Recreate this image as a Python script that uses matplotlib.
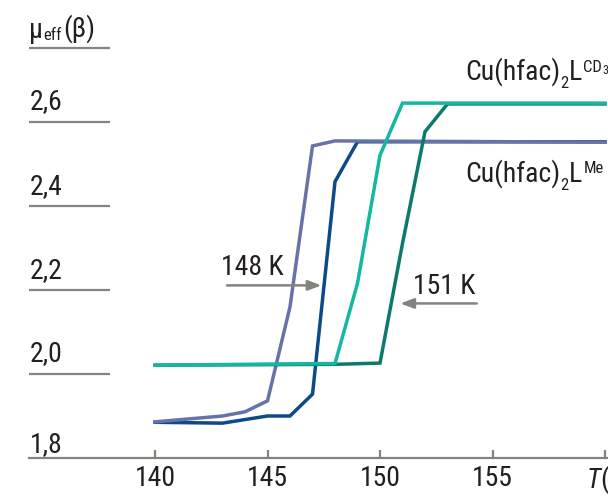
import matplotlib
matplotlib.use("Agg")
import matplotlib.pyplot as plt
from matplotlib import transforms
from matplotlib import font_manager as fm

available = set(f.name for f in fm.fontManager.ttflist)
MAIN = next((f for f in ['Roboto Condensed', 'Archivo Narrow', 'Liberation Sans Narrow']
             if f in available), 'DejaVu Sans')
FONT = [MAIN, 'DejaVu Sans']
plt.rcParams['font.family'] = FONT
plt.rcParams['mathtext.fontset'] = 'custom'
plt.rcParams['mathtext.rm'] = MAIN
plt.rcParams['mathtext.it'] = MAIN + ':italic'
plt.rcParams['mathtext.bf'] = MAIN + ':bold'
plt.rcParams['mathtext.default'] = 'regular'

# ---- data ----
me_heat_T = [140, 143, 144, 145, 146, 147, 148, 160]
me_heat_mu = [1.886, 1.900, 1.910, 1.936, 2.160, 2.543, 2.555, 2.552]

me_cool_T = [140, 143, 145, 146, 147, 148, 149, 160]
me_cool_mu = [1.885, 1.883, 1.900, 1.900, 1.952, 2.458, 2.553, 2.553]

cd3_cool_T = [140, 148, 149, 150, 151, 160]
cd3_cool_mu = [2.021, 2.025, 2.216, 2.521, 2.645, 2.645]

cd3_heat_T = [140, 148, 150, 151, 152, 153, 160]
cd3_heat_mu = [2.021, 2.023, 2.026, 2.311, 2.577, 2.643, 2.643]

y_ticks = [1.8, 2.0, 2.2, 2.4, 2.6]
y_labels = ['1,8', '2,0', '2,2', '2,4', '2,6']
x_ticks = [140, 145, 150, 155, 160]
x_labels = ['140', '145', '150', '155', '']

C_PURPLE = '#6672a8'
C_DBLUE = '#0d4a88'
C_TEAL = '#14b7a1'
C_DTEAL = '#0c7a6a'
C_GRAY = '#86827d'
C_TEXT = '#231f20'
FS = 20
LW = 2.5

fig = plt.figure(figsize=(6.08, 4.96), dpi=100)
ax = fig.add_axes([0, 0, 1, 1])
ax.set_xlim(133.111, 160.133)
ax.set_ylim(1.7095, 2.8905)
for s in ['top', 'left', 'right']:
    ax.spines[s].set_visible(False)
ax.spines['bottom'].set_position(('data', 1.8))
ax.spines['bottom'].set_bounds(134.4, 160.133)
ax.spines['bottom'].set_color(C_GRAY)
ax.spines['bottom'].set_linewidth(1.6)
ax.patch.set_alpha(0)

ax.set_xticks(x_ticks)
ax.set_xticklabels(x_labels)
ax.tick_params(axis='x', direction='in', length=6, width=1.6, color=C_GRAY,
               labelsize=FS, labelcolor=C_TEXT, pad=5)
ax.set_yticks([])

# y "ticks": short lines with labels above
xl0, xl1 = 134.4, 138.0
gaps = [6, 13, 12, 12, 13]
for v, lab, g in zip(y_ticks, y_labels, gaps):
    if v != 1.8:
        ax.plot([xl0, xl1], [v, v], color=C_GRAY, lw=1.6, solid_capstyle='butt')
    tr = transforms.offset_copy(ax.transData, fig=fig, x=0, y=g, units='dots')
    ax.text(xl0 + 0.02, v, lab, transform=tr, fontsize=FS, color=C_TEXT,
            ha='left', va='baseline')
top_line = 2.776
ax.plot([xl0, xl1], [top_line, top_line], color=C_GRAY, lw=1.6, solid_capstyle='butt')
tr = transforms.offset_copy(ax.transData, fig=fig, x=0, y=10, units='dots')
t_mu = ax.text(xl0 + 0.02, top_line, 'μ', transform=tr, fontsize=FS, color=C_TEXT,
               ha='left', va='baseline')
t_eff = ax.annotate('eff', xy=(1.0, 0.05), xycoords=t_mu, fontsize=FS * 0.6,
                    color=C_TEXT, ha='left', va='bottom')
ax.annotate('(β)', xy=(1.0, 0.0), xycoords=t_eff, fontsize=FS, color=C_TEXT,
            ha='left', va='bottom', xytext=(1, 0), textcoords='offset points')

# curves
ax.plot(me_cool_T, me_cool_mu, color=C_DBLUE, lw=LW, solid_joinstyle='miter')
ax.plot(me_heat_T, me_heat_mu, color=C_PURPLE, lw=LW, solid_joinstyle='miter')
ax.plot(cd3_heat_T, cd3_heat_mu, color=C_DTEAL, lw=LW, solid_joinstyle='miter')
ax.plot(cd3_cool_T, cd3_cool_mu, color=C_TEAL, lw=LW, solid_joinstyle='miter')

# arrows
ax.annotate('', xy=(147.4, 2.211), xytext=(143.2, 2.211),
            arrowprops=dict(arrowstyle='-|>,head_length=0.8,head_width=0.3',
                            color=C_GRAY, lw=1.8, shrinkA=0, shrinkB=0))
ax.text(142.95, 2.211 + 0.010, '148 K', fontsize=FS, color=C_TEXT,
        ha='left', va='bottom')
ax.annotate('', xy=(150.9, 2.168), xytext=(154.3, 2.168),
            arrowprops=dict(arrowstyle='-|>,head_length=0.8,head_width=0.3',
                            color=C_GRAY, lw=1.8, shrinkA=0, shrinkB=0))
ax.text(151.45, 2.168 + 0.008, '151 K', fontsize=FS, color=C_TEXT,
        ha='left', va='bottom')


# series labels built from pieces: Cu(hfac)_2 L^{sup}{_sub}
def chem_label(x, y, sup, sup_dy, sup_fs, tail=None):
    t1 = ax.text(x, y, 'Cu(hfac)', fontsize=FS, color=C_TEXT,
                 ha='left', va='baseline')
    t2 = ax.annotate('2', xy=(1.0, y), xycoords=(t1, 'data'), xytext=(0.3, -5.8),
                     textcoords='offset points', fontsize=FS * 0.6, color=C_TEXT,
                     ha='left', va='baseline')
    t3 = ax.annotate('L', xy=(1.0, y), xycoords=(t2, 'data'), xytext=(0.2, 0),
                     textcoords='offset points', fontsize=FS, color=C_TEXT,
                     ha='left', va='baseline')
    t4 = ax.annotate(sup, xy=(1.0, y), xycoords=(t3, 'data'), xytext=(0.8, sup_dy),
                     textcoords='offset points', fontsize=sup_fs, color=C_TEXT,
                     ha='left', va='baseline')
    if tail:
        ax.annotate(tail, xy=(1.0, y), xycoords=(t4, 'data'), xytext=(0.2, sup_dy - 1.5),
                    textcoords='offset points', fontsize=sup_fs * 0.72, color=C_TEXT,
                    ha='left', va='baseline')


chem_label(153.78, 2.700, 'CD', 6.0, 12, tail='3')
chem_label(153.78, 2.457, 'Me', 6.5, 12)

# axis title at the 160 tick
tr = transforms.offset_copy(ax.transData, fig=fig, x=0, y=-30, units='dots')
ax.text(159.15, 1.8, r'$\mathit{T}$(K)', transform=tr, fontsize=FS,
        color=C_TEXT, ha='left', va='baseline')

fig.savefig('out.png', dpi=100)
